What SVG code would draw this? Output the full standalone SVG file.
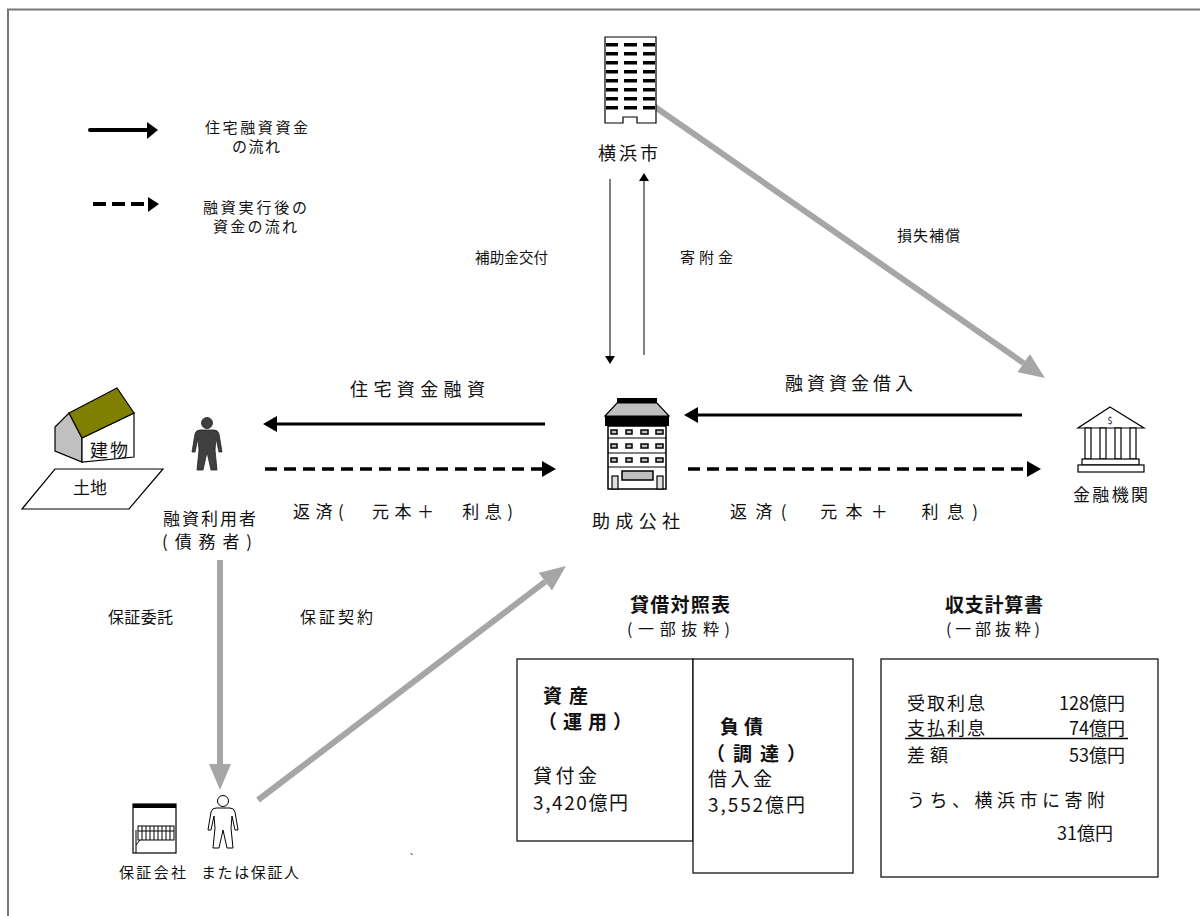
<svg xmlns="http://www.w3.org/2000/svg" width="1200" height="916" viewBox="0 0 1200 916">
  <style>
    text { font-family: "Noto Sans CJK JP", "Noto Sans", sans-serif; fill: #111; }
    .lg { font-size: 15px; }
    .lb { font-size: 15px; }
    .lp { font-size: 17px; }
    .lm { font-size: 18px; }
    .hd { font-size: 19px; font-weight: bold; }
    .sub { font-size: 16px; }
    .bx { font-size: 19px; }
    .bb { font-size: 19px; font-weight: bold; }
    .ib { font-size: 18px; }
    .flow { stroke: #000; stroke-width: 3; fill: none; }
    .dash { stroke: #000; stroke-width: 3.5; stroke-dasharray: 12 7; fill: none; }
    .thin { stroke: #808080; stroke-width: 2; fill: none; }
    .wide { stroke: #a6a6a6; stroke-width: 6; fill: none; }
    .box { fill: #fff; stroke: #000; stroke-width: 1.2; }
    .ol { stroke: #000; stroke-width: 1.2; }
  </style>
  <defs>
    <marker id="headBlack" markerUnits="userSpaceOnUse" markerWidth="14" markerHeight="16" refX="0" refY="8" orient="auto">
      <path d="M0,0 L14,8 L0,16 Z" fill="#000"/>
    </marker>
    <marker id="headSmall" markerUnits="userSpaceOnUse" markerWidth="8" markerHeight="10" refX="0" refY="5" orient="auto">
      <path d="M0,0 L8,5 L0,10 Z" fill="#000"/>
    </marker>
    <marker id="headGray" markerUnits="userSpaceOnUse" markerWidth="26" markerHeight="22" refX="0" refY="11" orient="auto">
      <path d="M0,0 L26,11 L0,22 Z" fill="#a6a6a6"/>
    </marker>
    <g id="person">
      <circle cx="0" cy="0" r="5.5"/>
      <path d="M-7,7 L7,7 Q11,7 12,11 L15,29 L12,29 L9,15 L8,27 L10,47 L4,47 L0,29 L-4,47 L-10,47 L-8,27 L-9,15 L-12,29 L-15,29 L-12,11 Q-11,7 -7,7 Z"/>
    </g>
  </defs>

  <rect width="1200" height="916" fill="#fff"/>
  <!-- outer frame -->
  <rect x="8" y="9.5" width="1300" height="1000" fill="none" stroke="#777" stroke-width="2"/>

  <!-- legend -->
  <g id="legend">
    <line x1="90" y1="130" x2="147" y2="130" stroke="#000" stroke-width="4" stroke-linecap="round"/>
    <path d="M147,122 L158,130 L147,139 Z" fill="#000"/>
    <text class="lg" x="205" y="133" textLength="103" lengthAdjust="spacing">住宅融資資金</text>
    <text class="lg" x="232" y="152" textLength="48" lengthAdjust="spacing">の流れ</text>
    <line x1="93" y1="204" x2="147" y2="204" stroke="#000" stroke-width="4" stroke-dasharray="13 6"/>
    <path d="M148,197 L159,204 L148,212 Z" fill="#000"/>
    <text class="lg" x="203" y="213" textLength="104" lengthAdjust="spacing">融資実行後の</text>
    <text class="lg" x="213" y="232" textLength="84" lengthAdjust="spacing">資金の流れ</text>
  </g>

  <!-- connectors -->
  <g id="connectors">
    <line class="thin" x1="610" y1="179" x2="610" y2="356" marker-end="url(#headSmall)"/>
    <line class="thin" x1="644" y1="355" x2="644" y2="181" marker-end="url(#headSmall)"/>
    <line class="wide" x1="645" y1="100" x2="1023.6" y2="363.1" marker-end="url(#headGray)"/>
    <line class="flow" x1="1022" y1="415" x2="698" y2="415" marker-end="url(#headBlack)"/>
    <line class="flow" x1="545" y1="424" x2="277" y2="424" marker-end="url(#headBlack)"/>
    <line class="dash" x1="265" y1="469" x2="542" y2="469" marker-end="url(#headBlack)"/>
    <line class="dash" x1="688" y1="469" x2="1027" y2="469" marker-end="url(#headBlack)"/>
    <line class="wide" x1="220" y1="560" x2="220" y2="764" marker-end="url(#headGray)"/>
    <line class="wide" x1="258" y1="800" x2="545.3" y2="581.7" marker-end="url(#headGray)"/>

    <text x="475" y="263" font-size="14.5" textLength="73" lengthAdjust="spacing">補助金交付</text>
    <text class="lb" x="680" y="263" textLength="53" lengthAdjust="spacing">寄附金</text>
    <text class="lb" x="897" y="241" textLength="63" lengthAdjust="spacing">損失補償</text>
    <text class="lm" x="350" y="396" textLength="135" lengthAdjust="spacing">住宅資金融資</text>
    <text class="lm" x="785" y="390" textLength="128" lengthAdjust="spacing">融資資金借入</text>
    <text class="lp" x="293" y="518" textLength="220" lengthAdjust="spacing">返済(　元本＋　利息)</text>
    <text class="lp" x="730" y="518" textLength="248" lengthAdjust="spacing">返済(　元本＋　利息)</text>
    <text x="108" y="623" font-size="16" textLength="65" lengthAdjust="spacing">保証委託</text>
    <text x="300" y="623" font-size="16" textLength="73" lengthAdjust="spacing">保証契約</text>
  </g>

  <!-- Yokohama city hall -->
  <g id="city">
    <path d="M605,37 L656,37 L656,123 L637,123 L637,117 L623,117 L623,123 L605,123 Z" fill="#fff" class="ol"/>
    <g fill="#000">
      <rect x="606" y="43" width="12" height="3.5"/><rect x="624" y="43" width="13" height="3.5"/><rect x="643" y="43" width="12" height="3.5"/>
      <rect x="606" y="52" width="12" height="3.5"/><rect x="624" y="52" width="13" height="3.5"/><rect x="643" y="52" width="12" height="3.5"/>
      <rect x="606" y="61" width="12" height="3.5"/><rect x="624" y="61" width="13" height="3.5"/><rect x="643" y="61" width="12" height="3.5"/>
      <rect x="606" y="70" width="12" height="3.5"/><rect x="624" y="70" width="13" height="3.5"/><rect x="643" y="70" width="12" height="3.5"/>
      <rect x="606" y="79" width="12" height="3.5"/><rect x="624" y="79" width="13" height="3.5"/><rect x="643" y="79" width="12" height="3.5"/>
      <rect x="606" y="88" width="12" height="3.5"/><rect x="624" y="88" width="13" height="3.5"/><rect x="643" y="88" width="12" height="3.5"/>
      <rect x="606" y="97" width="12" height="3.5"/><rect x="624" y="97" width="13" height="3.5"/><rect x="643" y="97" width="12" height="3.5"/>
      <rect x="606" y="106" width="12" height="3.5"/><rect x="624" y="106" width="13" height="3.5"/><rect x="643" y="106" width="12" height="3.5"/>
    </g>
    <text x="598" y="160" font-size="18" textLength="60" lengthAdjust="spacing">横浜市</text>
  </g>

  <!-- housing corporation -->
  <g id="corporation">
    <rect x="617" y="398" width="40" height="5" fill="#000"/>
    <path d="M617,403 L657,403 L669,416 L605,416 Z" fill="#bfbfbf" class="ol"/>
    <rect x="605" y="416" width="64" height="10" fill="#000"/>
    <rect x="608" y="426" width="58" height="63" fill="#fff" stroke="#000" stroke-width="1.5"/>
    <g fill="#bfbfbf" stroke="#000" stroke-width="1.5">
      <rect x="611" y="430" width="6" height="4"/><rect x="626" y="430" width="6" height="4"/><rect x="641" y="430" width="7" height="4"/><rect x="656" y="430" width="7" height="4"/>
      <rect x="611" y="444" width="6" height="4"/><rect x="626" y="444" width="6" height="4"/><rect x="641" y="444" width="7" height="4"/><rect x="656" y="444" width="7" height="4"/>
      <rect x="611" y="458" width="6" height="4"/><rect x="626" y="458" width="6" height="4"/><rect x="641" y="458" width="7" height="4"/><rect x="656" y="458" width="7" height="4"/>
      <rect x="622" y="471" width="31" height="9"/>
    </g>
    <g stroke="#000" stroke-width="1">
      <line x1="608" y1="438" x2="666" y2="438"/>
      <line x1="608" y1="453" x2="666" y2="453"/>
      <line x1="608" y1="467" x2="666" y2="467"/>
    </g>
    <rect x="612" y="476" width="6" height="13" fill="#e0e0e0" stroke="#000" stroke-width="1.2"/>
    <rect x="657" y="476" width="6" height="13" fill="#e0e0e0" stroke="#000" stroke-width="1.2"/>
    <text class="lm" x="592" y="528" textLength="88" lengthAdjust="spacing">助成公社</text>
  </g>

  <!-- financial institution -->
  <g id="bank">
    <path d="M1110,407 L1144,428 L1078,428 Z" fill="#fff" class="ol"/>
    <text x="1110" y="424" font-size="9" text-anchor="middle">$</text>
    <g fill="#fff" stroke="#000" stroke-width="1.2">
      <rect x="1085" y="428" width="6" height="31"/>
      <rect x="1100" y="428" width="6" height="31"/>
      <rect x="1115" y="428" width="6" height="31"/>
      <rect x="1130" y="428" width="6" height="31"/>
      <rect x="1082" y="459" width="57" height="6"/>
      <rect x="1078" y="465" width="66" height="7"/>
    </g>
    <text class="lp" x="1073" y="501" textLength="75" lengthAdjust="spacing">金融機関</text>
  </g>

  <!-- house and land -->
  <g id="property">
    <path d="M22,509 L55,469 L163,469 L129,509 Z" fill="#fff" class="ol"/>
    <text x="73" y="494" font-size="17" textLength="34" lengthAdjust="spacing">土地</text>
    <path d="M55,427 L69,413 L82,438 L82,462 L55,451 Z" fill="#c0c0c0" class="ol"/>
    <path d="M82,438 L134,413 L134,457 L82,462 Z" fill="#fff" class="ol"/>
    <path d="M69,413 L117,388 L134,413 L82,438 Z" fill="#808000" class="ol"/>
    <text x="90" y="457" font-size="18" textLength="38" lengthAdjust="spacing">建物</text>
  </g>

  <!-- borrower -->
  <g id="borrower">
    <use href="#person" transform="translate(207,423)" fill="#404040" stroke="#222" stroke-width="0.8"/>
    <text class="lp" x="163" y="525" textLength="93" lengthAdjust="spacing">融資利用者</text>
    <text class="lp" x="162" y="548" textLength="90" lengthAdjust="spacing">(債務者)</text>
  </g>

  <!-- guarantor -->
  <g id="guarantor">
    <rect x="133" y="804" width="43" height="49" fill="#fff" class="ol"/>
    <rect x="133" y="804" width="43" height="4" fill="#000"/>
    <rect x="138" y="826" width="36" height="14" fill="#fff" stroke="#000" stroke-width="1"/>
    <g stroke="#000" stroke-width="1">
      <line x1="142" y1="826" x2="142" y2="840"/><line x1="146" y1="826" x2="146" y2="840"/>
      <line x1="150" y1="826" x2="150" y2="840"/><line x1="154" y1="826" x2="154" y2="840"/>
      <line x1="158" y1="826" x2="158" y2="840"/><line x1="162" y1="826" x2="162" y2="840"/>
      <line x1="166" y1="826" x2="166" y2="840"/><line x1="170" y1="826" x2="170" y2="840"/>
      <line x1="138" y1="831" x2="174" y2="831"/>
      <line x1="136" y1="830" x2="136" y2="853"/>
      <line x1="136" y1="845" x2="140" y2="840"/>
    </g>
    <use href="#person" transform="translate(223,801)" fill="#fff" stroke="#000" stroke-width="1"/>
    <text class="lg" x="119" y="878" textLength="67" lengthAdjust="spacing">保証会社</text>
    <text class="lg" x="201" y="878" textLength="98" lengthAdjust="spacing">または保証人</text>
  </g>

  <!-- balance sheet -->
  <g id="balance-sheet">
    <text class="hd" x="630" y="612" textLength="100" lengthAdjust="spacing">貸借対照表</text>
    <text class="sub" x="627" y="635" textLength="103" lengthAdjust="spacing">(一部抜粋)</text>
    <rect class="box" x="517" y="659" width="176" height="182"/>
    <rect class="box" x="693" y="659" width="160" height="214"/>
    <text class="bb" x="543" y="703" textLength="45" lengthAdjust="spacing">資産</text>
    <text class="bb" x="538" y="729" textLength="94" lengthAdjust="spacing">（運用）</text>
    <text class="bx" x="533" y="783" textLength="64" lengthAdjust="spacing">貸付金</text>
    <text class="bx" x="533" y="810" textLength="95" lengthAdjust="spacing">3,420億円</text>
    <text class="bb" x="720" y="734" textLength="43" lengthAdjust="spacing">負債</text>
    <text class="bb" x="706" y="761" textLength="100" lengthAdjust="spacing">（調達）</text>
    <text class="bx" x="708" y="786" textLength="64" lengthAdjust="spacing">借入金</text>
    <text class="bx" x="708" y="812" textLength="97" lengthAdjust="spacing">3,552億円</text>
  </g>

  <!-- income statement -->
  <g id="income-statement">
    <text class="hd" x="945" y="612" textLength="98" lengthAdjust="spacing">収支計算書</text>
    <text class="sub" x="946" y="635" textLength="94" lengthAdjust="spacing">(一部抜粋)</text>
    <rect class="box" x="881" y="659" width="277" height="218"/>
    <text class="ib" x="907" y="710" textLength="78" lengthAdjust="spacing">受取利息</text>
    <text class="ib" x="1125" y="710" text-anchor="end">128億円</text>
    <text class="ib" x="907" y="735" textLength="78" lengthAdjust="spacing">支払利息</text>
    <text class="ib" x="1125" y="735" text-anchor="end">74億円</text>
    <line x1="905" y1="738.5" x2="1128" y2="738.5" stroke="#000" stroke-width="1.5"/>
    <text class="ib" x="907" y="762" textLength="41" lengthAdjust="spacing">差額</text>
    <text class="ib" x="1125" y="762" text-anchor="end">53億円</text>
    <text class="ib" x="907" y="807" textLength="198" lengthAdjust="spacing">うち、横浜市に寄附</text>
    <text class="ib" x="1113" y="840" text-anchor="end">31億円</text>
  </g>

  <text x="409" y="862" font-size="10" fill="#555">`</text>
</svg>
